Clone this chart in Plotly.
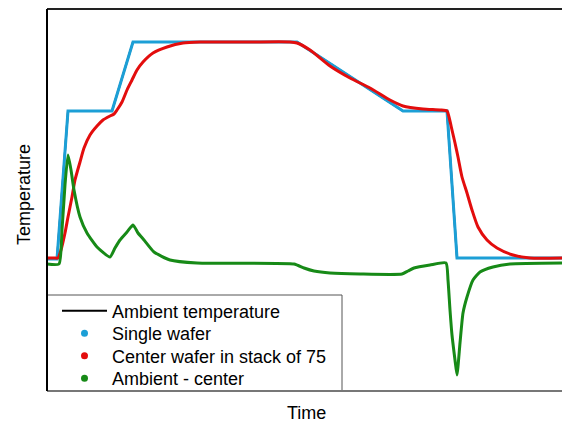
import plotly.graph_objects as go

# Time (arbitrary units) and temperature (arbitrary units)
ambient_time = [0, 10, 21, 65, 86, 250, 356, 400, 410, 515]
ambient_temp = [132, 132, 280, 280, 349, 349, 280, 280, 133, 133]

single_time = [0, 10, 21, 65, 86, 250, 356, 400, 410, 515]
single_temp = [132, 132, 280, 280, 349, 349, 280, 280, 133, 133]

center_time = [0, 7, 11, 14, 18, 21, 25, 28, 33, 37, 43, 50, 56, 63, 67, 70, 75,
               80, 85, 90, 96, 106, 120, 136, 153, 203, 243, 250, 263, 283, 303,
               323, 343, 356, 376, 393, 400, 402, 405, 408, 411, 415, 420, 425,
               431, 440, 450, 466, 483, 515]
center_temp = [133, 133, 133, 141, 158, 174, 194, 211, 229, 243, 256, 265, 271,
               275, 277, 281, 289, 301, 311, 321, 329, 338, 344, 348, 349, 349,
               349, 348, 341, 325, 313, 303, 291, 285, 282, 281, 280, 274, 261,
               248, 234, 214, 198, 181, 164, 151, 143, 136, 133, 133]

diff_time = [0, 12, 15, 18, 21, 24, 27, 33, 40, 50, 63, 68, 73, 80, 86, 91, 97,
             107, 123, 150, 247, 257, 267, 283, 313, 355, 361, 367, 383, 399, 401,
             403, 405, 408, 410, 413, 416, 420, 426, 433, 446, 463, 515]
diff_temp = [127, 127, 161, 206, 236, 221, 201, 174, 158, 144, 134, 143, 151, 159,
             166, 158, 151, 139, 131, 128, 127, 123, 120, 118, 117, 117, 120, 123,
             126, 128, 111, 81, 56, 31, 16, 48, 78, 94, 111, 119, 124, 127, 128]

legend_names = ["Ambient temperature", "Single wafer",
                "Center wafer in stack of 75", "Ambient - center"]

font = "Liberation Sans, Arial, sans-serif"
blue = "#1c9fd6"
red = "#e30d0d"
green = "#178a17"

fig = go.Figure()
fig.add_trace(go.Scatter(x=ambient_time, y=ambient_temp, mode="lines",
                         line=dict(color="black", width=2),
                         name=legend_names[0], legend="legend"))
fig.add_trace(go.Scatter(x=single_time, y=single_temp, mode="lines",
                         line=dict(color=blue, width=3), showlegend=False))
fig.add_trace(go.Scatter(x=center_time, y=center_temp, mode="lines",
                         line=dict(color=red, width=3, shape="spline", smoothing=0.6),
                         showlegend=False))
fig.add_trace(go.Scatter(x=diff_time, y=diff_temp, mode="lines",
                         line=dict(color=green, width=3, shape="spline", smoothing=0.5),
                         showlegend=False))
for i, (nm, col) in enumerate(zip(legend_names[1:], [blue, red, green])):
    fig.add_trace(go.Scatter(x=[None], y=[None], mode="markers",
                             marker=dict(color=col, size=7), name=nm,
                             legend="legend%d" % (i + 2)))

# legend rows (pixel centres in the reference, converted to paper units)
row_px = [311, 333.5, 356, 378.5]
plot_top, plot_bottom, plot_left, plot_w = 9, 391, 47, 515
plot_h = plot_bottom - plot_top
leg_x = (57 - plot_left) / plot_w

legends = {}
for i, yc in enumerate(row_px):
    key = "legend" if i == 0 else "legend%d" % (i + 1)
    legends[key] = dict(x=leg_x, y=(plot_bottom - yc) / plot_h,
                        xanchor="left", yanchor="middle",
                        bgcolor="rgba(0,0,0,0)", borderwidth=0, itemwidth=45,
                        font=dict(family=font, size=18, color="black"))

fig.update_layout(
    width=562, height=423,
    margin=dict(l=47, r=0, t=9, b=32),
    paper_bgcolor="white", plot_bgcolor="white",
    font=dict(family=font, size=18, color="black"),
    xaxis=dict(range=[0, 515], showgrid=False, zeroline=False, showline=False,
               showticklabels=False, ticks=""),
    yaxis=dict(range=[0, 382], showgrid=False, zeroline=False, showline=False,
               showticklabels=False, ticks=""),
    shapes=[
        dict(type="rect", xref="paper", yref="paper", x0=0,
             x1=(342 - plot_left) / plot_w, y0=0, y1=(plot_bottom - 295) / plot_h,
             line=dict(color="#555", width=1), fillcolor="white", layer="below"),
        dict(type="line", xref="paper", yref="paper", x0=0, x1=1, y0=1, y1=1,
             line=dict(color="#222", width=2)),
        dict(type="line", xref="paper", yref="paper", x0=0, x1=1, y0=0, y1=0,
             line=dict(color="#777", width=2)),
        dict(type="line", xref="paper", yref="paper", x0=0, x1=0, y0=0, y1=1,
             line=dict(color="black", width=2)),
    ],
    annotations=[
        dict(text="Temperature", xref="paper", yref="paper",
             x=(24 - 47) / 515, y=(391 - 195) / 382, textangle=-90,
             showarrow=False, xanchor="center", yanchor="middle",
             font=dict(family=font, size=18)),
        dict(text="Time", xref="paper", yref="paper",
             x=(306 - 47) / 515, y=(391 - 413) / 382,
             showarrow=False, xanchor="center", yanchor="middle",
             font=dict(family=font, size=18)),
    ],
    **legends,
)

fig.write_html("out.html")
